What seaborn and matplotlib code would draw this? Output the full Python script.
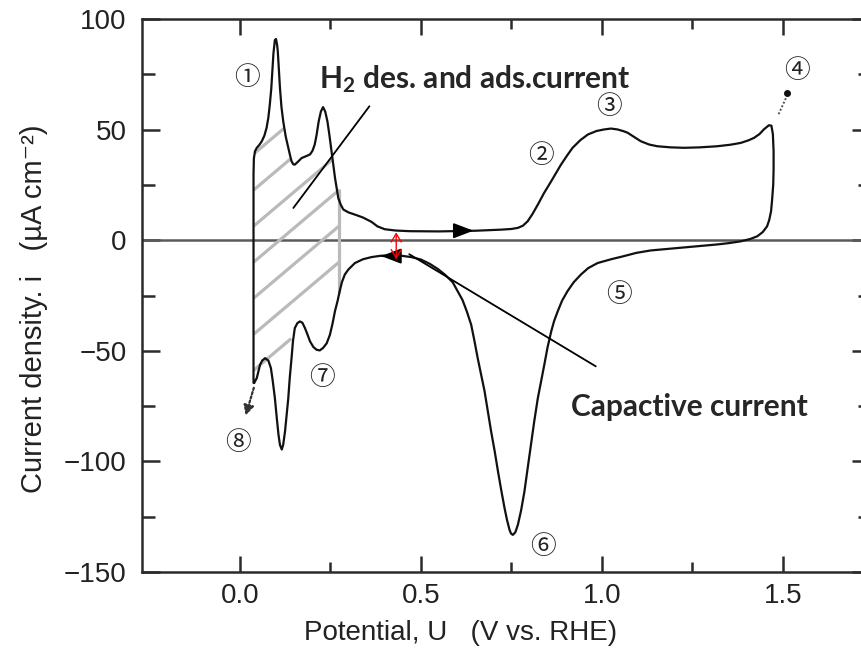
import numpy as np
import pandas as pd
import matplotlib
matplotlib.use("Agg")
import matplotlib.pyplot as plt
import seaborn as sns
from matplotlib.path import Path
from matplotlib.ticker import FixedLocator, FormatStrFormatter

# ---- cyclic voltammogram of Pt (anodic sweep, then cathodic sweep) ----
anodic_u = [0.038, 0.038, 0.039, 0.042, 0.047, 0.054, 0.061, 0.068, 0.074, 0.079,
            0.083, 0.087, 0.090, 0.093, 0.097, 0.100, 0.103, 0.105, 0.108, 0.111,
            0.115, 0.120, 0.127, 0.134, 0.139, 0.143, 0.148, 0.152, 0.160, 0.171,
            0.183, 0.194, 0.201, 0.207, 0.212, 0.218, 0.224, 0.230, 0.236, 0.242,
            0.247, 0.252, 0.258, 0.263, 0.268, 0.272, 0.279, 0.286, 0.300, 0.318,
            0.340, 0.364, 0.380, 0.400, 0.430, 0.470, 0.550, 0.650, 0.722, 0.750,
            0.768, 0.782, 0.795, 0.808, 0.823, 0.840, 0.860, 0.887, 0.905, 0.919,
            0.940, 0.961, 0.985, 1.006, 1.025, 1.043, 1.060, 1.071, 1.090, 1.107,
            1.130, 1.153, 1.190, 1.227, 1.270, 1.318, 1.355, 1.383, 1.405, 1.420,
            1.435, 1.447, 1.461, 1.468, 1.472]
anodic_i = [-64.5, 30.0, 37.0, 40.2, 41.8, 43.1, 44.8, 47.3, 50.8, 55.5,
            61.4, 68.5, 76.5, 84.5, 90.5, 91.0, 88.5, 85.5, 77.5, 68.9,
            60.5, 53.8, 46.8, 41.8, 38.3, 35.7, 34.3, 34.2, 35.4, 37.2,
            38.0, 38.8, 40.5, 43.3, 47.5, 53.8, 58.2, 60.2, 58.2, 53.8,
            48.2, 41.8, 34.5, 28.2, 23.0, 19.1, 16.0, 13.9, 12.6, 11.6,
            10.3, 8.3, 6.3, 5.0, 4.4, 4.1, 4.0, 4.3, 4.8, 5.1,
            5.6, 6.6, 8.6, 11.8, 16.1, 21.3, 26.7, 34.2, 38.6, 41.8,
            45.2, 47.8, 49.4, 50.1, 50.5, 50.1, 49.3, 48.6, 46.6, 44.8,
            43.3, 42.5, 42.0, 41.8, 42.0, 42.5, 43.2, 44.0, 45.2, 46.3,
            48.0, 50.1, 52.0, 51.8, 48.0]

cathodic_u = [1.474, 1.474, 1.473, 1.470, 1.467, 1.462, 1.456, 1.444, 1.429, 1.410,
              1.383, 1.350, 1.318, 1.270, 1.227, 1.180, 1.135, 1.095, 1.060, 1.025,
              0.988, 0.962, 0.942, 0.922, 0.905, 0.890, 0.878, 0.868, 0.860, 0.850,
              0.841, 0.832, 0.823, 0.813, 0.804, 0.795, 0.786, 0.777, 0.768, 0.761,
              0.754, 0.749, 0.745, 0.738, 0.731, 0.722, 0.713, 0.704, 0.694, 0.685,
              0.676, 0.666, 0.657, 0.648, 0.639, 0.627, 0.615, 0.600, 0.588, 0.567,
              0.547, 0.524, 0.500, 0.473, 0.446, 0.418, 0.390, 0.364, 0.340, 0.318,
              0.300, 0.290, 0.282, 0.276, 0.270, 0.263, 0.256, 0.249, 0.240, 0.230,
              0.221, 0.212, 0.203, 0.194, 0.187, 0.180, 0.173, 0.166, 0.159, 0.152,
              0.147, 0.143, 0.138, 0.134, 0.129, 0.125, 0.120, 0.116, 0.111, 0.107,
              0.102, 0.097, 0.091, 0.086, 0.079, 0.070, 0.062, 0.056, 0.047, 0.040]
cathodic_i = [40.3, 32.0, 25.2, 18.5, 13.1, 9.2, 6.3, 3.7, 1.8, 0.6,
              -0.5, -1.3, -1.9, -2.6, -3.2, -3.9, -4.6, -5.7, -7.2, -8.6,
              -10.3, -12.6, -15.5, -19.0, -23.0, -27.3, -32.1, -36.5, -41.2, -48.3,
              -56.2, -63.8, -71.4, -82.0, -92.4, -103.0, -113.6, -122.0, -128.6, -132.0,
              -133.2, -132.6, -131.0, -126.5, -121.0, -113.0, -104.5, -95.5, -86.4, -77.3,
              -68.3, -60.5, -53.3, -45.5, -38.2, -32.2, -27.0, -22.5, -19.0, -15.6,
              -13.0, -10.6, -8.7, -7.6, -7.0, -6.8, -7.0, -7.6, -8.6, -10.3,
              -13.2, -15.5, -19.0, -23.0, -27.5, -32.0, -37.8, -42.7, -46.6, -48.7,
              -49.8, -49.5, -48.2, -45.7, -42.6, -39.7, -37.3, -36.7, -37.5, -39.7,
              -45.5, -53.3, -62.3, -71.4, -79.8, -86.4, -92.4, -94.6, -92.5, -88.0,
              -80.0, -71.4, -63.5, -57.8, -54.4, -53.3, -54.4, -56.3, -62.3, -64.5]

x_major = [0.0, 0.5, 1.0, 1.5]
x_minor = [0.25, 0.75, 1.25]
y_major = [-150, -100, -50, 0, 50, 100]
y_minor = [-125, -75, -25, 25, 75]

# circled step markers along the sweep
step_labels = ["①", "②", "③", "④", "⑤", "⑥", "⑦", "⑧"]
step_u = [0.019, 0.832, 1.020, 1.539, 1.048, 0.837, 0.226, -0.004]
step_i = [73.3, 38.0, 60.4, 76.5, -24.6, -138.5, -62.3, -91.7]

# hydrogen region: right edge and lower base of the shaded area
h_edge_u = 0.275
h_edge_top, h_edge_bottom = 23.0, -24.0
h_base_u = [0.155, 0.050]
h_base_i = [-42.0, -62.0]

# sweep-direction arrows (potential of the arrow tip)
arrow_anodic_u = 0.653
arrow_cathodic_u = 0.383

df = pd.DataFrame({
    "U": anodic_u + cathodic_u,
    "i": anodic_i + cathodic_i,
})

sns.set_theme(style="ticks")
plt.rcParams["font.family"] = ["Liberation Sans", "DejaVu Sans"]
plt.rcParams["axes.edgecolor"] = "#2b2b2b"
plt.rcParams["xtick.color"] = "#2b2b2b"
plt.rcParams["ytick.color"] = "#2b2b2b"
plt.rcParams["mathtext.fontset"] = "custom"
plt.rcParams["mathtext.rm"] = "Lato"
plt.rcParams["mathtext.bf"] = "Lato:bold"
plt.rcParams["mathtext.it"] = "Lato:italic"

fig = plt.figure(figsize=(8.62, 6.49), dpi=100)
ax = fig.add_axes([0.1647, 0.1186, 0.8445, 0.852])

# zero-current line
ax.axhline(0, color="#5a5a5a", lw=1.8, zorder=1)

# the voltammogram itself
sns.lineplot(data=df, x="U", y="i", sort=False, estimator=None,
             color="#111111", lw=1.6, ax=ax, zorder=4)
for ln in ax.lines:
    ln.set_solid_joinstyle("round")

# hatched hydrogen adsorption / desorption area:
# each hatch stroke runs from the left edge until it first meets the boundary
au = np.array(anodic_u)
ai = np.array(anodic_i)
keep = (au >= 0.038) & (au <= 0.265) & (ai > 0)
verts = list(zip(au[keep], ai[keep]))
verts += [(h_edge_u, h_edge_top), (h_edge_u, h_edge_bottom)]
verts += list(zip(h_base_u, h_base_i))
verts += [(0.038, -64.5), verts[0]]
region = Path(verts, closed=True)
hatch_slope = 138.3
xs = np.linspace(0.036, 0.30, 1200)
for k in range(7):
    ys = 33.7 - 16.3 * k + hatch_slope * xs
    inside = region.contains_points(np.column_stack([xs, ys]))
    if not inside.any():
        continue
    i0 = int(np.argmax(inside))
    rest = ~inside[i0:]
    i1 = i0 + (int(np.argmax(rest)) if rest.any() else len(rest))
    ax.plot(xs[i0:i1], ys[i0:i1], color="#bababa", lw=2.3,
            solid_capstyle="butt", zorder=2)
ax.plot([h_edge_u, h_edge_u], [h_edge_top, h_edge_bottom], color="#bababa",
        lw=2.3, solid_capstyle="butt", zorder=2)

# sweep-direction arrows on the curve
cu_sorted = np.array(cathodic_u)[::-1]
ci_sorted = np.array(cathodic_i)[::-1]
ya = np.interp(arrow_anodic_u, au[1:], ai[1:])
yc = np.interp(arrow_cathodic_u, cu_sorted, ci_sorted)
arrow_kw = dict(arrowstyle="-|>,head_length=1.1,head_width=0.42",
                color="black", lw=1.4, mutation_scale=11)
ax.annotate("", xy=(arrow_anodic_u, ya), xytext=(arrow_anodic_u - 0.05, ya),
            arrowprops=arrow_kw, zorder=5)
ax.annotate("", xy=(arrow_cathodic_u, yc), xytext=(arrow_cathodic_u + 0.02, yc),
            arrowprops=arrow_kw, zorder=5)

# dotted lead-out at both ends of the sweep
ax.annotate("", xy=(0.014, -80.5), xytext=(0.041, -65.5),
            arrowprops=dict(arrowstyle="-|>,head_length=0.5,head_width=0.25",
                            linestyle=(0, (1, 1)), color="#333333", lw=1.6,
                            mutation_scale=12))
ax.plot([1.488, 1.510], [57, 65], ls=(0, (1, 1)), color="#555555", lw=1.4)
ax.plot([1.512], [66.5], marker="o", ms=4, color="#111111")

# circled step numbers
for lab, u, i in zip(step_labels, step_u, step_i):
    ax.text(u, i, lab, ha="center", va="center", fontsize=18.5,
            family=["Noto Sans CJK JP", "DejaVu Sans"], color="#222222")

# capacitive current marker
ax.annotate("", xy=(0.432, -8.6), xytext=(0.432, 3.6),
            arrowprops=dict(arrowstyle="<->,head_length=0.5,head_width=0.3",
                            color="red", lw=1.0, mutation_scale=12,
                            shrinkA=0, shrinkB=0), zorder=6)

# annotation texts with pointer lines
ax.plot([0.148, 0.358], [14.6, 60.6], color="black", lw=1.3, zorder=5)
ax.text(0.22, 68.8, r"H$_\mathbf{2}$ des. and ads.current", fontsize=21.5,
        fontweight="bold", family=["Lato", "DejaVu Sans"],
        ha="left", va="baseline")
ax.plot([0.468, 0.983], [-6.3, -57.0], color="black", lw=1.3, zorder=5)
ax.text(0.915, -79.6, "Capactive current", fontsize=21.5, fontweight="bold",
        family=["Lato", "DejaVu Sans"], ha="left", va="baseline")

# axes, ticks and labels
ax.set_xlim(-0.27, 1.74)
ax.set_ylim(-150, 100)
ax.xaxis.set_major_locator(FixedLocator(x_major))
ax.xaxis.set_minor_locator(FixedLocator(x_minor))
ax.yaxis.set_major_locator(FixedLocator(y_major))
ax.yaxis.set_minor_locator(FixedLocator(y_minor))
ax.xaxis.set_major_formatter(FormatStrFormatter("%.1f"))
ax.tick_params(axis="both", which="both", direction="in", top=True, right=True,
               width=1.8, labelsize=20, labelcolor="#222222")
ax.tick_params(axis="x", which="major", length=11.5, pad=8)
ax.tick_params(axis="x", which="minor", length=7)
ax.tick_params(axis="y", which="major", length=13, pad=11)
ax.tick_params(axis="y", which="minor", length=9)
for sp in ax.spines.values():
    sp.set_linewidth(1.8)

ax.set_xlabel("Potential, U   (V vs. RHE)", fontsize=20, color="#222222")
ax.set_ylabel("Current density. i   (µA cm⁻²)", fontsize=21, color="#222222")
ax.xaxis.set_label_coords(0.438, -0.110)
ax.xaxis.label.set_va("center")
ax.yaxis.set_label_coords(-0.149, 0.477)
ax.yaxis.label.set_va("center")

fig.savefig("out.png", dpi=100)
